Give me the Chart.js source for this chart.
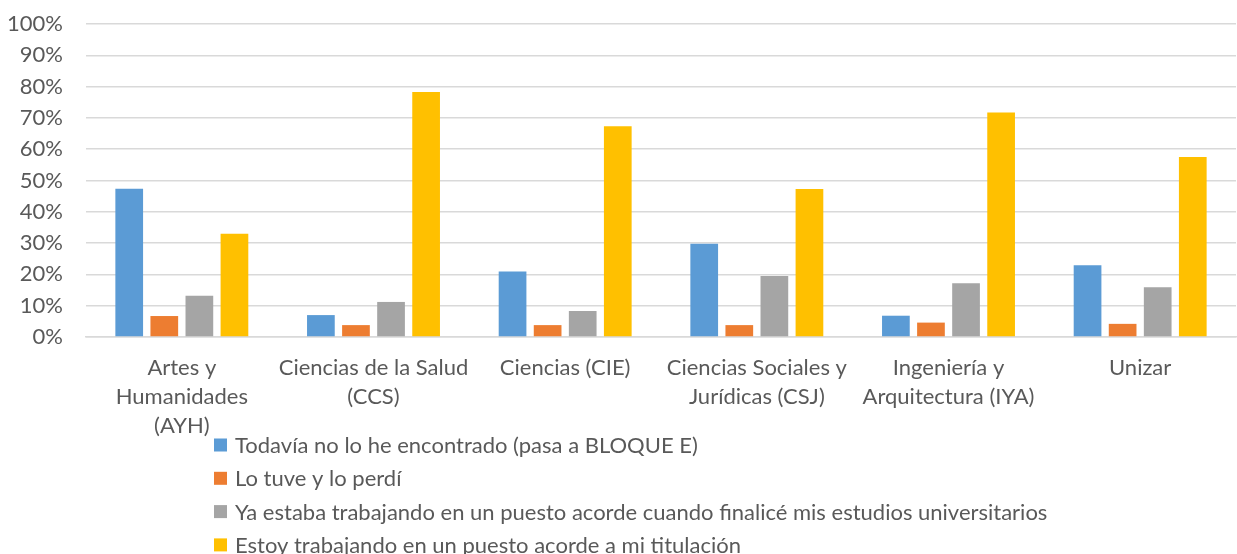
<!DOCTYPE html>
<html>
<head>
<meta charset="utf-8">
<script src="https://cdn.jsdelivr.net/npm/chart.js@4/dist/chart.umd.min.js"></script>
<style>
html,body{margin:0;padding:0;background:#fff;}
#wrap{width:1237px;height:554px;position:relative;}
</style>
</head>
<body>
<div id="wrap"><canvas id="c" width="1237" height="554"></canvas></div>
<script>
const categories = [
  ["Artes y", "Humanidades", "(AYH)"],
  ["Ciencias de la Salud", "(CCS)"],
  ["Ciencias (CIE)"],
  ["Ciencias Sociales y", "Jurídicas (CSJ)"],
  ["Ingeniería y", "Arquitectura (IYA)"],
  ["Unizar"]
];
const seriesNames = [
  "Todavía no lo he encontrado (pasa a BLOQUE E)",
  "Lo tuve y lo perdí",
  "Ya estaba trabajando en un puesto acorde cuando finalicé mis estudios universitarios",
  "Estoy trabajando en un puesto acorde a mi titulación"
];
const todaviaNo = [47.4, 7.0, 20.9, 29.8, 6.8, 22.9];
const loPerdi   = [6.7, 3.8, 3.8, 3.8, 4.6, 4.2];
const yaEstaba  = [13.2, 11.2, 8.3, 19.5, 17.2, 15.9];
const estoy     = [33.0, 78.3, 67.3, 47.3, 71.7, 57.5];
const yTicks = [0, 10, 20, 30, 40, 50, 60, 70, 80, 90, 100];

const colors = ["#5B9BD5", "#ED7D31", "#A5A5A5", "#FFC000"];
const FONT = "Lato, 'Open Sans', sans-serif";
const TEXT = "#595959";

const legendPlugin = {
  id: "vlegend",
  afterDraw(chart) {
    const ctx = chart.ctx;
    ctx.save();
    ctx.font = "22px " + FONT;
    ctx.textBaseline = "middle";
    ctx.textAlign = "left";
    const x0 = 214, y0 = chart.chartArea.bottom + 108, dy = 33.3, box = 13;
    chart.data.datasets.forEach((ds, i) => {
      const y = y0 + i * dy;
      ctx.fillStyle = ds.backgroundColor;
      ctx.fillRect(x0, y - box / 2, box, box);
      ctx.fillStyle = TEXT;
      ctx.fillText(ds.label, x0 + 21, y + 1);
    });
    ctx.restore();
  }
};

const datasets = [todaviaNo, loPerdi, yaEstaba, estoy].map((d, i) => ({
  label: seriesNames[i],
  data: d,
  backgroundColor: colors[i],
  borderWidth: 0,
  categoryPercentage: 0.732,
  barPercentage: 0.79
}));

new Chart(document.getElementById("c"), {
  type: "bar",
  data: { labels: categories, datasets },
  plugins: [legendPlugin],
  options: {
    responsive: false,
    animation: false,
    layout: { padding: { top: 24, right: 1, left: 0, bottom: 113 } },
    plugins: { legend: { display: false }, tooltip: { enabled: false } },
    scales: {
      x: {
        grid: { display: false, drawTicks: false },
        border: { display: true, color: "#d9d9d9", width: 1.5 },
        ticks: {
          autoSkip: false, maxRotation: 0, minRotation: 0, padding: 16,
          color: TEXT, font: { family: FONT, size: 22, lineHeight: 1.33 }
        },
        afterFit(s) { s.height = 104; }
      },
      y: {
        min: 0, max: 100,
        afterBuildTicks(s) { s.ticks = yTicks.map(v => ({ value: v })); },
        grid: { color: "#d9d9d9", lineWidth: 1.5, drawTicks: false },
        border: { display: false },
        ticks: {
          padding: 23, color: TEXT,
          font: { family: FONT, size: 22 },
          callback: v => v + "%"
        },
        afterFit(s) { s.width = 86; s.paddingTop = 0; s.paddingBottom = 0; }
      }
    }
  }
});
</script>
</body>
</html>
